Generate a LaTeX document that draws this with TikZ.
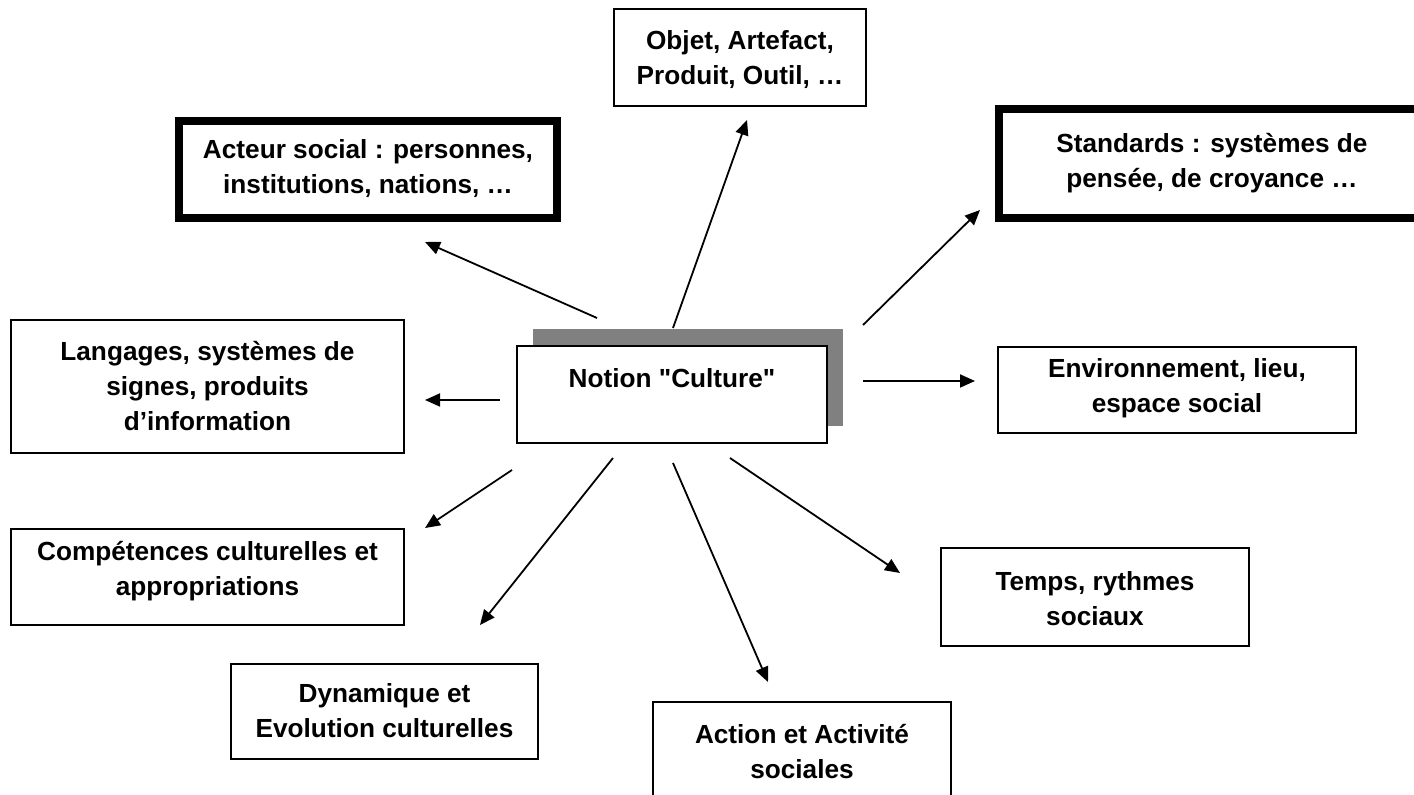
\documentclass[tikz,border=0pt]{standalone}
\usepackage{fontspec}
\newfontfamily\lib{Liberation Sans}
\usetikzlibrary{arrows.meta}
\begin{document}
\begin{tikzpicture}[x=0.5pt,y=-0.5pt,
  sz/.style 2 args={minimum width=#1*0.5pt, minimum height=#2*0.5pt},
  box/.style={draw=black, line width=0.8pt, fill=white, inner sep=0pt},
  thickbox/.style={draw=black, line width=4pt, fill=white, inner sep=0pt},
  shadowbox/.style={fill=black!50, draw=none, inner sep=0pt},
  lbl/.style={font=\lib\fontsize{13.1}{17.5}\selectfont\bfseries, align=center, inner sep=0pt, anchor=north},
  arr/.style={line width=0.9pt, -{Triangle[length=7.5pt,width=6.5pt]}}]
\useasboundingbox (0,0) rectangle (1414,795);
\clip (0,0) rectangle (1414,795);

% boxes
\node[box, sz={252}{97}] (objet) at (740,57.5) {};
\node[thickbox, sz={378}{97}] (acteur) at (368,169.5) {};
\node[thickbox, sz={426}{109}] (standards) at (1212,163.5) {};
\node[shadowbox, sz={310}{97}] (notionshadow) at (688,377.5) {};
\node[box, sz={310}{97}] (notion) at (672,394.5) {};
\node[box, sz={393}{133}] (langages) at (207.5,386.5) {};
\node[box, sz={358}{86}] (env) at (1177,390) {};
\node[box, sz={393}{96}] (comp) at (207.5,577) {};
\node[box, sz={307}{95}] (dyn) at (384.5,711.5) {};
\node[box, sz={308}{98}] (temps) at (1095,597) {};
\node[box, sz={298}{116}] (action) at (802,760) {};

% labels
\node[lbl] (objet-t) at (740,24.5) {\strut Objet, Artefact,\\\strut Produit, Outil, …};
\node[lbl] (acteur-t) at (368,133.5) {\strut Acteur social : personnes,\\\strut institutions, nations, …};
\node[lbl] (standards-t) at (1212,127.5) {\strut Standards : systèmes de\\\strut pensée, de croyance …};
\node[lbl] (notion-t) at (672,362.5) {\strut Notion "Culture"};
\node[lbl] (langages-t) at (207.5,335.5) {\strut Langages, systèmes de\\\strut signes, produits\\\strut d’information};
\node[lbl] (env-t) at (1177,352.5) {\strut Environnement, lieu,\\\strut espace social};
\node[lbl] (comp-t) at (207.5,535.5) {\strut Compétences culturelles et\\\strut appropriations};
\node[lbl] (dyn-t) at (384.5,677.5) {\strut Dynamique et\\\strut Evolution culturelles};
\node[lbl] (temps-t) at (1095,565.5) {\strut Temps, rythmes\\\strut sociaux};
\node[lbl] (action-t) at (802,718.5) {\strut Action et Activité\\\strut sociales};

% arrow end points
\coordinate (a1s) at (597,318); \coordinate (a1e) at (425,242);
\coordinate (a2s) at (673,328); \coordinate (a2e) at (747,120);
\coordinate (a3s) at (863,325); \coordinate (a3e) at (980,210);
\coordinate (a4s) at (863,381); \coordinate (a4e) at (975,381);
\coordinate (a5s) at (500,400); \coordinate (a5e) at (425,400);
\coordinate (a6s) at (512,470); \coordinate (a6e) at (425,528);
\coordinate (a7s) at (613,458); \coordinate (a7e) at (480,625);
\coordinate (a8s) at (673,463); \coordinate (a8e) at (768,682);
\coordinate (a9s) at (730,458); \coordinate (a9e) at (900,573);

\draw[arr] (a1s) -- (a1e);
\draw[arr] (a2s) -- (a2e);
\draw[arr] (a3s) -- (a3e);
\draw[arr] (a4s) -- (a4e);
\draw[arr] (a5s) -- (a5e);
\draw[arr] (a6s) -- (a6e);
\draw[arr] (a7s) -- (a7e);
\draw[arr] (a8s) -- (a8e);
\draw[arr] (a9s) -- (a9e);
\end{tikzpicture}
\end{document}
